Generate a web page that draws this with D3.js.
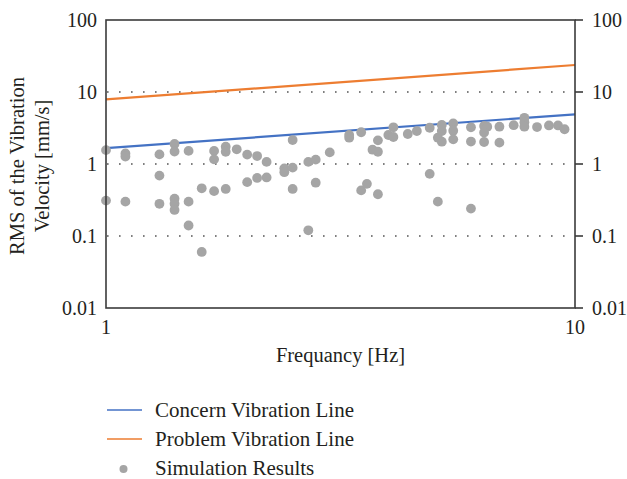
<!DOCTYPE html>
<html>
<head>
<meta charset="utf-8">
<script src="https://cdn.jsdelivr.net/npm/d3@7"></script>
<style>
  html, body { margin: 0; padding: 0; background: #fff; }
  text { font-family: "Liberation Serif", "DejaVu Serif", serif; fill: #231f20; }
</style>
</head>
<body>
<div id="chart"></div>
<script>
// ---- data ----
const yTickValues = [100, 10, 1, 0.1, 0.01];
const yTickLabels = ["100", "10", "1", "0.1", "0.01"];
const xTickValues = [1, 10];
const xTickLabels = ["1", "10"];
const gridValues = [10, 1, 0.1];

const concernLine = [[1, 1.66], [10, 4.9]];
const problemLine = [[1, 7.9], [10, 23.7]];

const simFreq = [
  1.0, 1.0,
  1.1, 1.1, 1.1,
  1.3, 1.3, 1.3,
  1.4, 1.4, 1.4, 1.4, 1.4,
  1.5, 1.5, 1.5,
  1.6, 1.6,
  1.7, 1.7, 1.7,
  1.8, 1.8, 1.8,
  1.9,
  2.0, 2.0,
  2.1, 2.1,
  2.2, 2.2,
  2.4, 2.4,
  2.5, 2.5, 2.5,
  2.7, 2.7,
  2.8, 2.8,
  3.0,
  3.3, 3.3,
  3.5, 3.5,
  3.6,
  3.7,
  3.8, 3.8, 3.8,
  4.0,
  4.1, 4.1,
  4.4,
  4.6,
  4.9, 4.9,
  5.1, 5.1,
  5.2, 5.2, 5.2,
  5.5, 5.5, 5.5,
  6.0, 6.0, 6.0,
  6.4, 6.5, 6.4, 6.4,
  6.9, 6.9,
  7.4,
  7.8, 7.8, 7.8,
  8.3,
  8.8,
  9.2,
  9.5
];
const simRms = [
  1.56, 0.31,
  1.40, 1.27, 0.30,
  1.36, 0.69, 0.28,
  1.90, 1.49, 0.33, 0.28, 0.23,
  1.52, 0.30, 0.14,
  0.46, 0.06,
  1.52, 1.16, 0.42,
  1.74, 1.48, 0.45,
  1.60,
  1.35, 0.56,
  1.29, 0.64,
  1.07, 0.65,
  0.87, 0.77,
  2.15, 0.89, 0.45,
  1.07, 0.12,
  1.15, 0.55,
  1.45,
  2.53, 2.32,
  2.76, 0.43,
  0.53,
  1.58,
  2.13, 1.48, 0.38,
  2.53,
  3.23, 2.37,
  2.61,
  2.87,
  3.19, 0.73,
  2.32, 0.30,
  3.48, 2.87, 2.04,
  3.67, 2.90, 2.20,
  3.23, 2.05, 0.24,
  3.37, 3.30, 2.74, 2.02,
  3.30, 1.98,
  3.46,
  4.38, 3.79, 3.30,
  3.26,
  3.43,
  3.43,
  3.04
];

const legendNames = ["Concern Vibration Line", "Problem Vibration Line", "Simulation Results"];

// ---- layout ----
const W = 627, H = 479;
const L = 106, R = 575, T = 20, B = 308;
const blue = "#4472c4", orange = "#ed7d31", gray = "#a5a5a5", axisCol = "#3b3b3b";

const svg = d3.select("#chart").append("svg").attr("width", W).attr("height", H);

const x = d3.scaleLog().domain([1, 10]).range([L, R]);
const y = d3.scaleLog().domain([0.01, 100]).range([B, T]);

// grid
svg.append("g").selectAll("line").data(gridValues).join("line")
  .attr("x1", L + 1).attr("x2", R)
  .attr("y1", d => y(d)).attr("y2", d => y(d))
  .attr("stroke", "#555").attr("stroke-width", 1.6)
  .attr("stroke-dasharray", "1.6,10.4").attr("stroke-dashoffset", -12);

// lines
const lineGen = d3.line().x(d => x(d[0])).y(d => y(d[1]));
svg.append("path").datum(problemLine).attr("d", lineGen)
  .attr("fill", "none").attr("stroke", orange).attr("stroke-width", 2.2);
svg.append("path").datum(concernLine).attr("d", lineGen)
  .attr("fill", "none").attr("stroke", blue).attr("stroke-width", 2.2);

// points
const pts = simFreq.map((f, i) => [f, simRms[i]]);
svg.append("g").selectAll("circle").data(pts).join("circle")
  .attr("cx", d => x(d[0])).attr("cy", d => y(d[1])).attr("r", 4.9)
  .attr("fill", gray);

// frame
svg.append("rect").attr("x", L).attr("y", T).attr("width", R - L).attr("height", B - T)
  .attr("fill", "none").attr("stroke", axisCol).attr("stroke-width", 1.6);

// left axis labels
svg.append("g").selectAll("text").data(yTickValues).join("text")
  .attr("x", L - 9).attr("y", d => y(d) + 7)
  .attr("text-anchor", "end").attr("font-size", 20)
  .text((d, i) => yTickLabels[i]);

// right axis ticks and labels
svg.append("g").selectAll("line").data(yTickValues).join("line")
  .attr("x1", R).attr("x2", R + 8)
  .attr("y1", d => y(d)).attr("y2", d => y(d))
  .attr("stroke", axisCol).attr("stroke-width", 1.6);
svg.append("g").selectAll("text").data(yTickValues).join("text")
  .attr("x", R + 17).attr("y", d => y(d) + 7)
  .attr("text-anchor", "start").attr("font-size", 20)
  .text((d, i) => yTickLabels[i]);

// x labels
svg.append("g").selectAll("text").data(xTickValues).join("text")
  .attr("x", d => x(d)).attr("y", B + 26)
  .attr("text-anchor", "middle").attr("font-size", 20)
  .text((d, i) => xTickLabels[i]);

svg.append("text").attr("x", (L + R) / 2).attr("y", 362)
  .attr("text-anchor", "middle").attr("font-size", 20.5)
  .text("Frequancy [Hz]");

// y title
const yt = svg.append("text").attr("transform", `translate(0,${(T + B) / 2 + 2}) rotate(-90)`)
  .attr("text-anchor", "middle").attr("font-size", 20.5);
yt.append("tspan").attr("x", 0).attr("y", 24).text("RMS of the Vibration");
yt.append("tspan").attr("x", 0).attr("y", 49).text("Velocity [mm/s]");

// legend
const lg = svg.append("g");
const ly = [410, 439, 468];
lg.append("line").attr("x1", 107).attr("x2", 142).attr("y1", ly[0]).attr("y2", ly[0])
  .attr("stroke", blue).attr("stroke-width", 1.5);
lg.append("line").attr("x1", 107).attr("x2", 142).attr("y1", ly[1]).attr("y2", ly[1])
  .attr("stroke", orange).attr("stroke-width", 1.5);
lg.append("circle").attr("cx", 123.5).attr("cy", ly[2] + 1).attr("r", 4)
  .attr("fill", gray);
lg.selectAll("text.lt").data(legendNames).join("text").attr("class", "lt")
  .attr("x", 155).attr("y", (d, i) => ly[i] + 7).attr("font-size", 21)
  .text(d => d);
</script>
</body>
</html>
